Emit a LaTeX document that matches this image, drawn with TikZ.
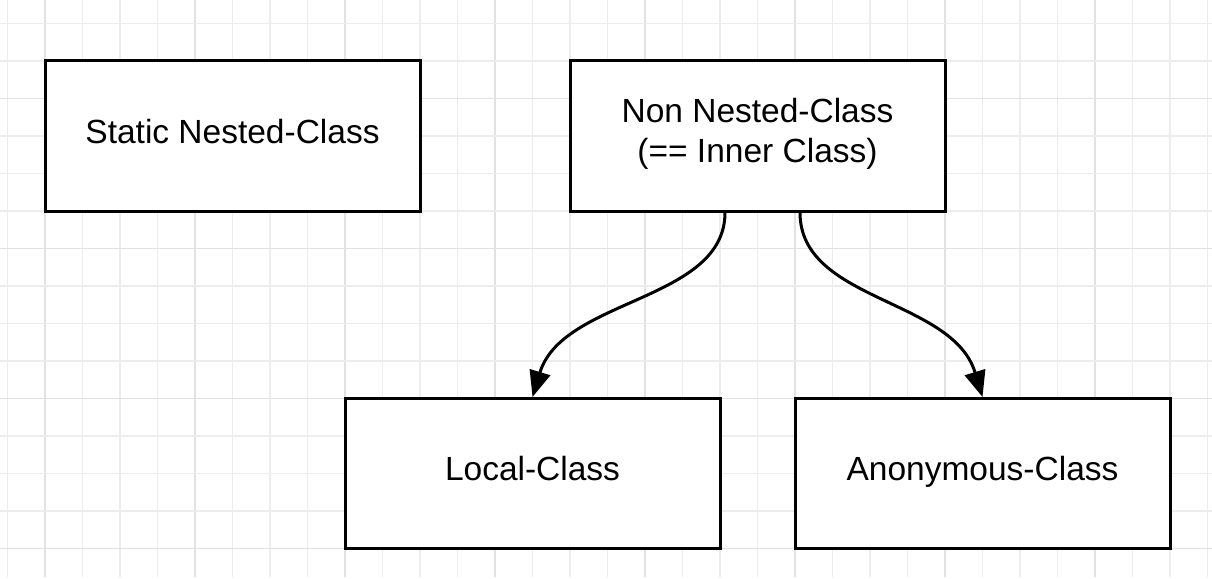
\documentclass[tikz,border=0pt]{standalone}
\usepackage{fontspec}
\setmainfont{Liberation Sans}
\usetikzlibrary{arrows.meta,calc}
\definecolor{gridlight}{HTML}{EDEDED}
\definecolor{griddark}{HTML}{E2E2E2}
\tikzset{
  classbox/.style={draw=black, line width=3pt, fill=white, minimum width=375pt, minimum height=150pt, inner sep=0pt, align=center, font=\fontsize{33.5}{40}\selectfont},
  oneline/.style={classbox, text height=24pt, text depth=10pt},
  gridline/.style={line width=1.2pt, draw=gridlight},
  gridmajor/.style={line width=1.2pt, draw=griddark},
  conn/.style={line width=3pt, draw=black, -{Triangle[length=26pt,width=21pt]}}
}
\begin{document}
\begin{tikzpicture}[x=1pt,y=-1pt]
\useasboundingbox (0,0) rectangle (1212,578);
\fill[white] (0,0) rectangle (1212,578);
% grid
\foreach \i in {0,...,32}{
  \pgfmathtruncatemacro{\m}{mod(\i,4)}
  \ifnum\m=1
    \draw[gridmajor] ({7.5+37.5*\i},0) -- ({7.5+37.5*\i},577);
  \else
    \draw[gridline] ({7.5+37.5*\i},0) -- ({7.5+37.5*\i},577);
  \fi
}
\foreach \j in {0,...,14}{
  \pgfmathtruncatemacro{\m}{mod(\j,4)}
  \ifnum\m=2
    \draw[gridmajor] (0,{23.5+37.5*\j}) -- (1212,{23.5+37.5*\j});
  \else
    \draw[gridline] (0,{23.5+37.5*\j}) -- (1212,{23.5+37.5*\j});
  \fi
}
% boxes
\node[oneline] (static) at (232.5,136) {Static Nested-Class};
\node[classbox] (inner) at (757.5,136) {Non Nested-Class\\(== Inner Class)\rule[-12pt]{0pt}{0pt}};
\node[oneline] (local) at (532.5,473.5) {Local-Class};
\node[oneline] (anon) at (982.5,473.5) {Anonymous-Class};
% connectors
\coordinate (s1) at ([xshift=-32.5pt]inner.south);
\coordinate (s2) at ([xshift=42.5pt]inner.south);
\draw[conn] (s1) .. controls ($(s1)+(0,89)$) and ($(local.north)+(30,-99)$) .. (local.north);
\draw[conn] (s2) .. controls ($(s2)+(0,89)$) and ($(anon.north)+(-30,-99)$) .. (anon.north);
\end{tikzpicture}
\end{document}
